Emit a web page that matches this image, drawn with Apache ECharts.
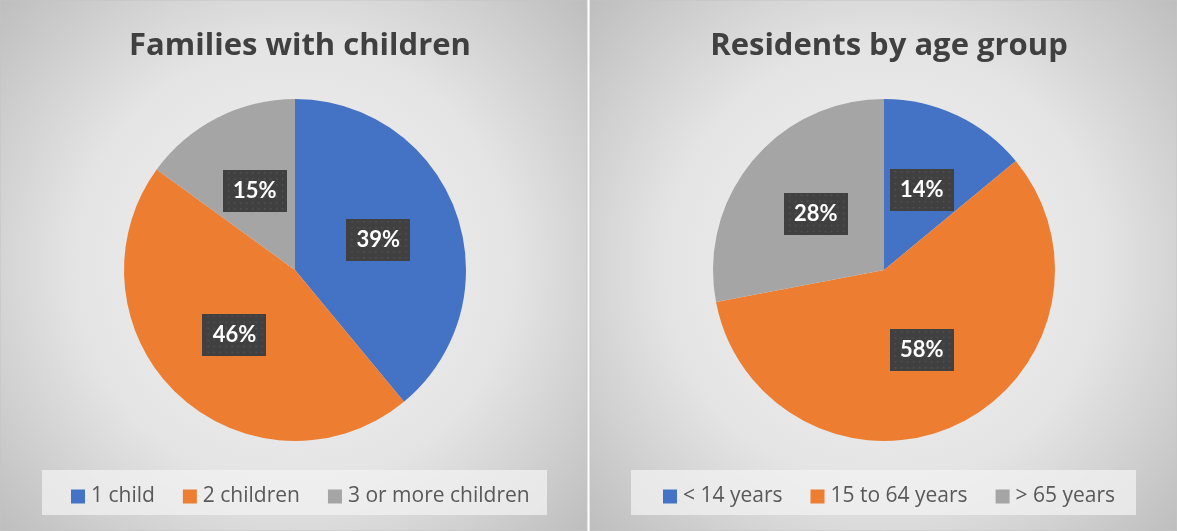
<!DOCTYPE html>
<html>
<head>
<meta charset="utf-8">
<script src="https://cdn.jsdelivr.net/npm/echarts@6/dist/echarts.min.js"></script>
<style>
  html, body { margin: 0; padding: 0; background: #fff; }
  #main { width: 1177px; height: 531px; }
</style>
</head>
<body>
<div id="main"></div>
<script>
// left chart
var familyTitle = 'Families with children';
var familyCats = ['1 child', '2 children', '3 or more children'];
var familyVals = [39, 46, 15];
// right chart
var ageTitle = 'Residents by age group';
var ageCats = ['< 14 years', '15 to 64 years', '> 65 years'];
var ageVals = [14, 58, 28];

var colors = ['#4472c4', '#ed7d31', '#a5a5a5'];
var font = 'Lato, "Open Sans", sans-serif';
var titleFont = '"Open Sans", Lato, sans-serif';
var legendFont = '"Open Sans", Lato, sans-serif';
var legendSize = 21;

// dotted dark box used behind the percent labels
function dotBox(w, h) {
  var c = document.createElement('canvas');
  c.width = w; c.height = h;
  var ctx = c.getContext('2d');
  ctx.fillStyle = '#404040';
  ctx.fillRect(0, 0, w, h);
  ctx.fillStyle = '#555555';
  for (var y = 2; y < h; y += 6) {
    for (var x = 2; x < w; x += 6) {
      ctx.fillRect(x + ((y / 6) % 2 ? 3 : 0), y, 1.5, 1.5);
    }
  }
  return c;
}
var boxImg = dotBox(64, 42);

// legend width, so it can be centred under its pie
var mctx = document.createElement('canvas').getContext('2d');
mctx.font = legendSize + 'px ' + legendFont;
function legendLeft(cats, cx) {
  var w = 0;
  cats.forEach(function (c, i) {
    w += 14 + 6 + mctx.measureText(c).width;
    if (i) w += 28;
  });
  return Math.round(cx - w / 2);
}

function panelBg(x, w) {
  return {
    type: 'rect',
    shape: { x: x, y: 0, width: w, height: 531 },
    style: {
      fill: {
        type: 'radial', x: 0.5, y: 0.5, r: 0.75,
        colorStops: [
          { offset: 0, color: '#f3f3f3' },
          { offset: 0.55, color: '#e4e4e4' },
          { offset: 1, color: '#bdbdbd' }
        ]
      },
      stroke: '#c4c4c4', lineWidth: 1
    },
    silent: true
  };
}

function legendBox(x) {
  return {
    type: 'rect',
    shape: { x: x, y: 470, width: 505, height: 45 },
    style: { fill: 'rgba(242,242,242,0.75)' },
    silent: true
  };
}

function legendOpt(cats, cx) {
  return {
    data: cats,
    left: legendLeft(cats, cx), top: 481,
    itemGap: 28, itemWidth: 14, itemHeight: 14, icon: 'rect',
    textStyle: { fontFamily: legendFont, fontSize: legendSize, color: '#595959', padding: [0, 0, 0, 1] },
    selectedMode: false
  };
}

function titleOpt(text, cx) {
  return {
    text: text, left: cx, top: 26, textAlign: 'center',
    textStyle: { fontFamily: titleFont, fontWeight: 'bold', fontSize: 31, color: '#404040' }
  };
}

function pieSeries(name, cats, vals, cx) {
  return {
    name: name,
    type: 'pie',
    center: [cx, 270],
    radius: 171,
    startAngle: 90,
    clockwise: true,
    avoidLabelOverlap: false,
    data: cats.map(function (c, i) { return { name: c, value: vals[i] }; }),
    label: {
      show: true,
      position: 'inside',
      formatter: '{d}%',
      color: '#ffffff',
      fontFamily: font,
      fontWeight: 'bold',
      fontSize: 22,
      width: 48,
      height: 22,
      lineHeight: 22,
      align: 'center',
      padding: [10, 8],
      backgroundColor: { image: boxImg },
      shadowColor: 'rgba(0,0,0,0.45)',
      shadowBlur: 6,
      shadowOffsetX: 2,
      shadowOffsetY: 3
    },
    labelLine: { show: false },
    emphasis: { disabled: true },
    itemStyle: { borderWidth: 0 }
  };
}

var chart = echarts.init(document.getElementById('main'));

var option = {
  animation: false,
  color: colors,
  graphic: [
    panelBg(0, 587),
    panelBg(590, 587),
    legendBox(42),
    legendBox(631)
  ],
  title: [
    titleOpt(familyTitle, 295),
    titleOpt(ageTitle, 884)
  ],
  legend: [
    legendOpt(familyCats, 295),
    legendOpt(ageCats, 884)
  ],
  series: [
    pieSeries('families', familyCats, familyVals, 295),
    pieSeries('age', ageCats, ageVals, 884)
  ]
};
chart.setOption(option);

window.addEventListener('resize', function () { chart.resize(); });
</script>
</body>
</html>
